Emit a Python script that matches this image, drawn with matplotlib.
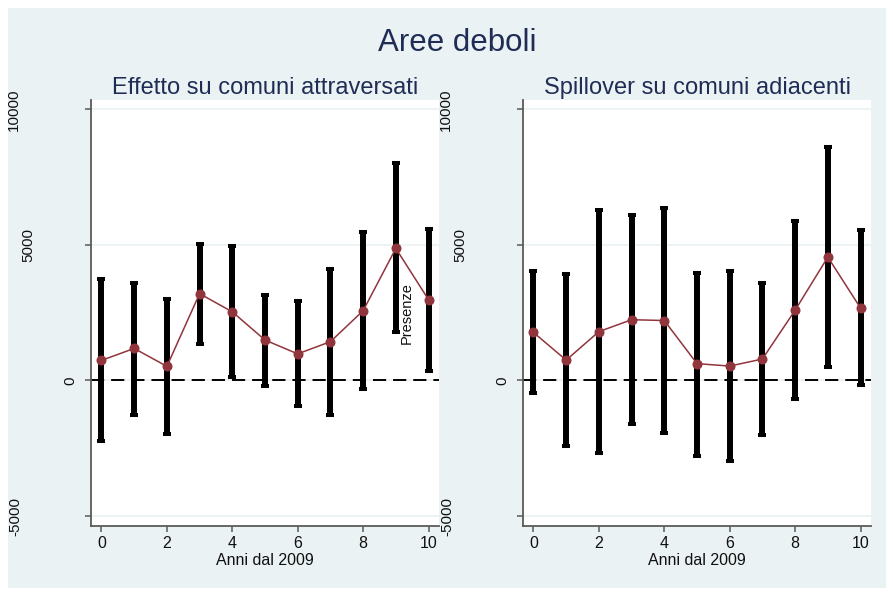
import matplotlib
matplotlib.use("Agg")
import matplotlib.pyplot as plt
from matplotlib.patches import Rectangle
from matplotlib.transforms import ScaledTranslation
import numpy as np

plt.rcParams['font.family'] = ['Liberation Sans', 'DejaVu Sans']
plt.rcParams['lines.scale_dashes'] = False

# ---- data ----
years = [0, 1, 2, 3, 4, 5, 6, 7, 8, 9, 10]

left_est = [740, 1180, 520, 3200, 2530, 1490, 980, 1430, 2570, 4870, 2980]
left_hi = [3750, 3610, 3000, 5040, 4970, 3160, 2940, 4120, 5470, 8020, 5580]
left_lo = [-2240, -1270, -1970, 1340, 120, -200, -960, -1290, -310, 1770, 360]

right_est = [1770, 750, 1800, 2240, 2210, 620, 530, 790, 2590, 4550, 2670]
right_hi = [4020, 3930, 6270, 6120, 6370, 3970, 4020, 3600, 5880, 8620, 5530]
right_lo = [-470, -2420, -2680, -1620, -1940, -2780, -2980, -2030, -680, 500, -170]

suptitle = "Aree deboli"
titles = ["Effetto su comuni attraversati", "Spillover su comuni adiacenti"]
xlabel = "Anni dal 2009"
xticks = [0, 2, 4, 6, 8, 10]
yticks = [-5000, 0, 5000, 10000]
ytick_labels = ["-5000", "0", "5000", "10000"]
extra_label = "Presenze"

# ---- styling ----
W, H = 893, 594
BG = '#EAF2F3'
NAVY = '#1F2D56'
RED = '#90353B'
SPINE = '#5a5a5a'

fig = plt.figure(figsize=(W / 100, H / 100), dpi=100, facecolor='white')
fig.patches.append(Rectangle((8 / W, 1 - 588 / H), (886 - 8) / W, (588 - 8) / H,
                             transform=fig.transFigure, facecolor=BG,
                             edgecolor='none', zorder=-10))


def fx(px):
    return px / W


def fy(py):
    return 1 - py / H


panels = [
    (91, left_est, left_lo, left_hi),
    (523, right_est, right_lo, right_hi),
]
# horizontal distance (px) of each rotated y tick label centre from the axis
label_offsets = [76, 21, 63, 77]

for i, (x0, est, lo, hi) in enumerate(panels):
    ax = fig.add_axes([fx(x0), fy(525.5), 348 / W, 425.5 / H])
    ax.set_facecolor('white')
    ax.set_xlim(-0.32, 10.32)
    ax.set_ylim(-5350, 10343)
    for s in ['top', 'right']:
        ax.spines[s].set_visible(False)
    for s in ['left', 'bottom']:
        ax.spines[s].set_color(SPINE)
        ax.spines[s].set_linewidth(1.3)
    ax.set_yticks(yticks)
    ax.set_yticklabels([])
    ax.set_xticks(xticks)
    ax.set_xticklabels([str(t) for t in xticks], fontsize=11.5, color='#111111')
    ax.tick_params(axis='both', direction='out', length=4.3, width=1.1,
                   color=SPINE, pad=3.5)
    ax.grid(axis='y', color=BG, linewidth=1.3, zorder=0)
    ax.set_axisbelow(True)

    ax.axhline(0, color='black', linewidth=1.4, ls=(0, (9.5, 5)), zorder=1)

    est_a = np.array(est)
    yerr = [est_a - np.array(lo), np.array(hi) - est_a]
    ax.errorbar(years, est, yerr=yerr, fmt='none', ecolor='black',
                elinewidth=4.3, capsize=2.9, capthick=2.9, zorder=2)
    ax.plot(years, est, color=RED, linewidth=1.1, marker='o', markersize=6.2,
            markerfacecolor=RED, markeredgecolor=RED, zorder=3)

    # rotated y tick labels
    for val, lab, off in zip(yticks, ytick_labels, label_offsets):
        tr = ax.get_yaxis_transform() + ScaledTranslation(-off / 100, 0,
                                                          fig.dpi_scale_trans)
        ax.text(0, val, lab, transform=tr, rotation=90, ha='center',
                va='center', fontsize=11, color='#111111', clip_on=False)

    cx = x0 + 174
    fig.text(fx(cx), fy(94), titles[i], ha='center', va='baseline',
             fontsize=17, color=NAVY)
    fig.text(fx(cx), fy(565), xlabel, ha='center', va='baseline',
             fontsize=11.5, color='#111111')

    if i == 0:
        ax.text(9.34, 2500, extra_label, rotation=90, ha='center',
                va='center', fontsize=10.5, color='#111111')

fig.text(fx(457), fy(51), suptitle, ha='center', va='baseline',
         fontsize=22.5, color=NAVY)

fig.savefig('out.png', dpi=100, facecolor='white')
